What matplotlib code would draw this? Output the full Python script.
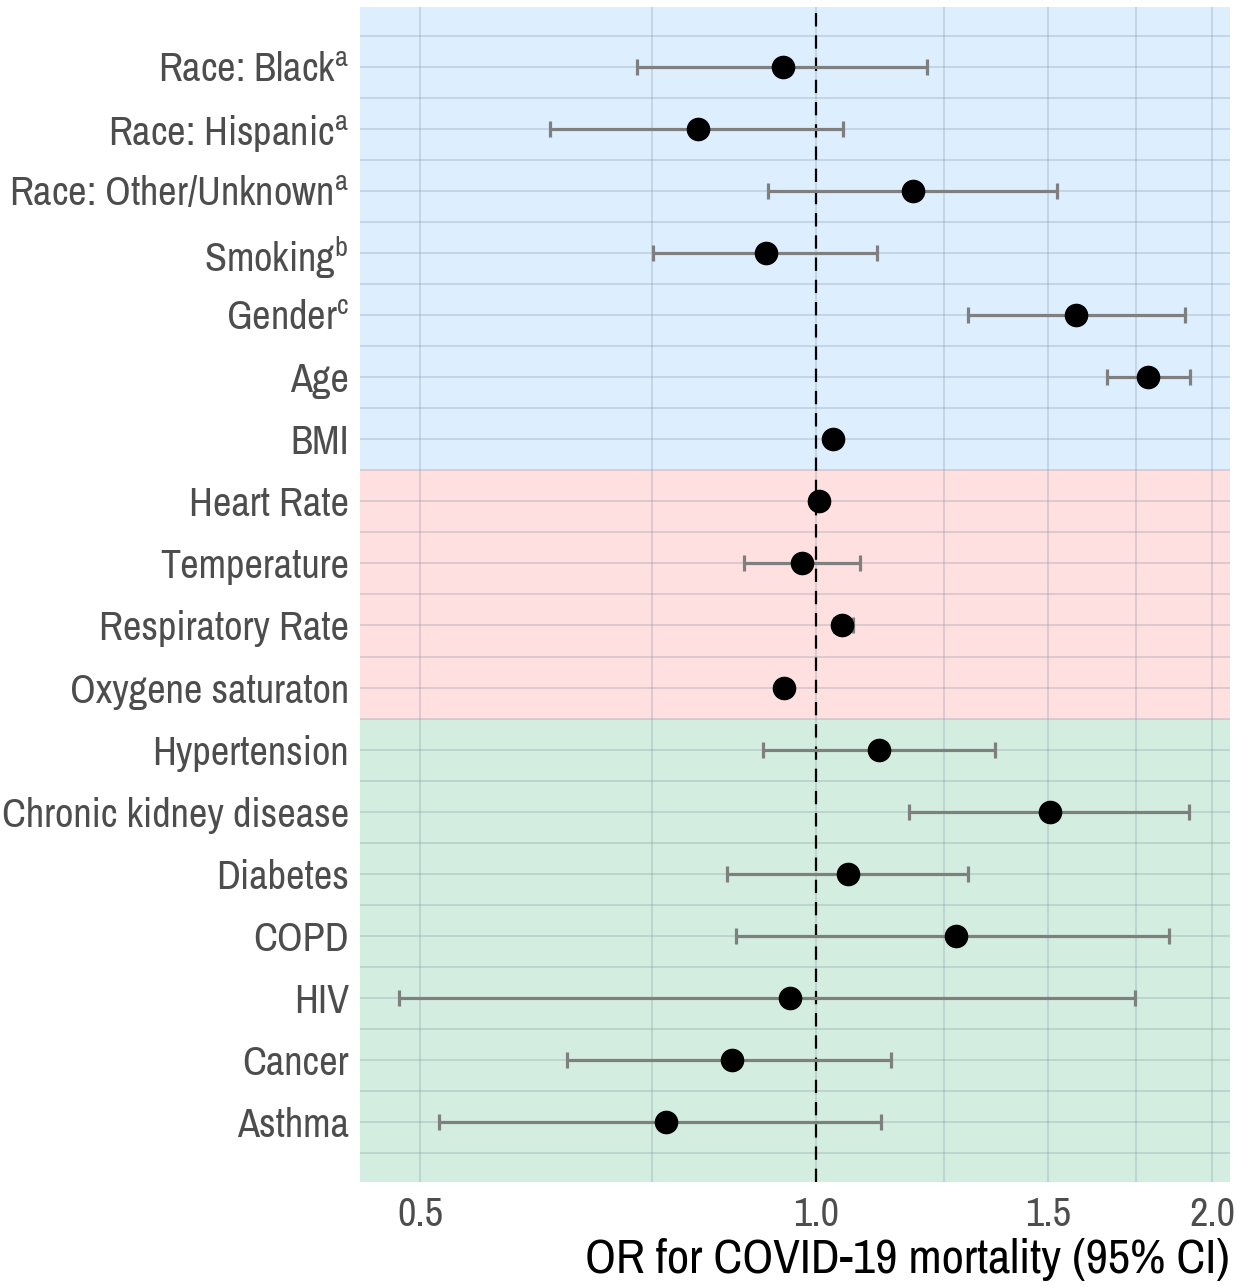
import matplotlib.pyplot as plt
from matplotlib import font_manager
import numpy as np

# 找一個窄體字型
installed = set(f.name for f in font_manager.fontManager.ttflist)
narrow = 'Liberation Sans'
for name in ['Liberation Sans Narrow', 'Arial Narrow', 'Archivo Narrow', 'Roboto Condensed',
             'PT Sans Narrow', 'Encode Sans Condensed', 'IBM Plex Sans Condensed',
             'Fira Sans Condensed', 'Open Sans Condensed', 'Pragati Narrow']:
    if name in installed:
        narrow = name
        break

plt.rcParams['font.family'] = [narrow, 'DejaVu Sans']
plt.rcParams['mathtext.fontset'] = 'custom'
plt.rcParams['mathtext.rm'] = narrow
plt.rcParams['mathtext.it'] = narrow

# 資料 (由上到下)
labels = ['Race: Black$^{\\mathrm{a}}$', 'Race: Hispanic$^{\\mathrm{a}}$',
          'Race: Other/Unknown$^{\\mathrm{a}}$', 'Smoking$^{\\mathrm{b}}$',
          'Gender$^{\\mathrm{c}}$', 'Age', 'BMI',
          'Heart Rate', 'Temperature', 'Respiratory Rate', 'Oxygene saturaton',
          'Hypertension', 'Chronic kidney disease', 'Diabetes', 'COPD',
          'HIV', 'Cancer', 'Asthma']
odds = [0.944, 0.813, 1.185, 0.916, 1.576, 1.788, 1.030,
        1.005, 0.976, 1.046, 0.945,
        1.116, 1.506, 1.058, 1.278, 0.955, 0.863, 0.769]
lower = [0.731, 0.628, 0.919, 0.752, 1.305, 1.664, 1.025,
         1.002, 0.882, 1.032, 0.940,
         0.911, 1.177, 0.856, 0.869, 0.482, 0.647, 0.517]
upper = [1.214, 1.048, 1.525, 1.113, 1.908, 1.924, 1.035,
         1.008, 1.080, 1.066, 0.950,
         1.368, 1.921, 1.305, 1.855, 1.748, 1.140, 1.120]
# 每組的列數: 人口學 / 生命徵象 / 共病
group_sizes = [7, 4, 7]
group_colors = ['#ddeeff', '#ffe0e0', '#d3eee0']

n = len(labels)
y = np.arange(n, 0, -1)
odds = np.array(odds)
lower = np.array(lower)
upper = np.array(upper)

fig = plt.figure(figsize=(12.47, 12.87), dpi=100)
ax = fig.add_axes([0.2887, 0.0816, 0.9864 - 0.2887, 0.9946 - 0.0816])

# 背景色塊
edges = [n + 0.5]
for size in group_sizes:
    edges.append(edges[-1] - size)
edges[0] = n + 2
edges[-1] = -1
for i, color in enumerate(group_colors):
    ax.axhspan(edges[i + 1], edges[i], color=color, zorder=0, lw=0)

# 格線
for gx in [0.5, 0.75, 1.0, 1.25, 1.5, 1.75, 2.0]:
    ax.axvline(gx, color='#7d8fa3', alpha=0.27, lw=1.4, zorder=1)
for gy in np.arange(0.5, n + 1, 0.5):
    ax.axhline(gy, color='#7d8fa3', alpha=0.27, lw=1.4, zorder=1)

ax.axvline(1.0, color='black', lw=1.6, ls=(0, (6, 4)), zorder=2)

ax.errorbar(odds, y, xerr=[odds - lower, upper - odds], fmt='none',
            ecolor='#7f7f7f', elinewidth=2.3, capsize=6, capthick=2.3, zorder=3)
ax.plot(odds, y, 'o', color='black', markersize=16, zorder=4)

ax.set_xscale('log')
ax.set_xlim(0.450, 2.064)
ax.set_ylim(0.03, n + 0.97)
ax.set_xticks([0.5, 1.0, 1.5, 2.0])
ax.set_xticklabels(['0.5', '1.0', '1.5', '2.0'])
ax.xaxis.set_minor_locator(plt.NullLocator())
ax.set_yticks(y)
ax.set_yticklabels(labels)
ax.tick_params(axis='both', length=0, labelsize=29, colors='#4d4d4d', pad=8)
ax.tick_params(axis='x', pad=10)
for s in ax.spines.values():
    s.set_visible(False)

ax.set_xlabel('OR for COVID-19 mortality (95% CI)', fontsize=35, color='black',
              loc='right', labelpad=4)

fig.savefig('out.png', dpi=100)
